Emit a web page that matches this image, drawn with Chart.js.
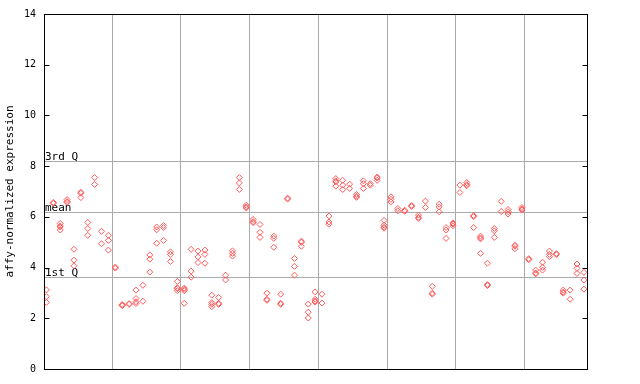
<!DOCTYPE html>
<html><head><meta charset="utf-8">
<script src="https://cdn.jsdelivr.net/npm/chart.js@4/dist/chart.umd.min.js"></script>
<style>html,body{margin:0;padding:0;background:#fff}#c{display:block}</style>
</head><body>
<canvas id="c" width="640" height="384"></canvas>
<script>
// replicate values per sample column (left to right)
const columnValues = [
  [3.12, 2.85, 2.63], [6.57, 6.53], [5.74, 5.64, 5.60, 5.48], [6.68, 6.60, 6.57], [4.72, 4.29, 4.07],
  [6.97, 6.93, 6.76], [5.78, 5.54, 5.27], [7.55, 7.28], [5.43, 4.94], [5.27, 5.07, 4.69],
  [4.02, 3.98], [2.54, 2.50, 2.52], [2.58, 2.55], [3.11, 2.78, 2.65, 2.58], [3.30, 2.67],
  [4.50, 4.33, 3.82], [5.60, 5.49, 4.96], [5.66, 5.58, 5.07], [4.62, 4.52, 4.24], [3.45, 3.20, 3.17, 3.09],
  [3.19, 3.14, 3.09, 2.59], [4.72, 3.86, 3.62], [4.65, 4.42, 4.20], [4.69, 4.52, 4.17], [2.91, 2.62, 2.55, 2.46],
  [2.82, 2.59, 2.55], [3.70, 3.51], [4.66, 4.56, 4.45], [7.55, 7.34, 7.08], [6.46, 6.39, 6.35],
  [5.90, 5.81, 5.77], [5.70, 5.39, 5.19], [2.99, 2.75, 2.71], [5.24, 5.15, 4.80], [2.95, 2.59, 2.55],
  [6.74, 6.70], [4.36, 4.05, 3.70], [5.04, 5.00, 4.84], [2.56, 2.24, 2.01], [3.04, 2.75, 2.68, 2.64],
  [2.95, 2.60], [6.03, 5.80, 5.71], [7.51, 7.42, 7.38, 7.21], [7.44, 7.25, 7.08], [7.29, 7.12],
  [6.88, 6.81, 6.77], [7.42, 7.31, 7.12], [7.31, 7.25], [7.57, 7.53, 7.44], [5.86, 5.67, 5.59, 5.55],
  [6.79, 6.69, 6.59], [6.33, 6.24], [6.26, 6.22], [6.45, 6.41], [6.07, 5.98, 5.94],
  [6.62, 6.37], [3.26, 2.99, 2.95], [6.50, 6.39, 6.20], [5.58, 5.48, 5.15], [5.76, 5.72, 5.65],
  [7.25, 6.96], [7.35, 7.27, 7.23], [6.05, 6.01, 5.58], [5.24, 5.17, 5.13, 4.56], [4.17, 3.33, 3.29],
  [5.54, 5.45, 5.19], [6.61, 6.21], [6.29, 6.20, 6.11], [4.88, 4.84, 4.74], [6.37, 6.31, 6.27],
  [4.35, 4.31], [3.90, 3.79, 3.75], [4.21, 4.01, 3.90], [4.65, 4.52, 4.43], [4.55, 4.51],
  [3.11, 3.03, 2.99], [3.11, 2.75], [4.14, 3.97, 3.77], [3.81, 3.51, 3.15]
];
const groupBoundaries = [9.65, 19.53, 29.54, 39.5, 49.56, 59.42, 69.44];
const yTicks = [0, 2, 4, 6, 8, 10, 12, 14];
const quartileLabels = ['3rd Q', 'mean', '1st Q'];
const quartileValues = [8.22, 6.21, 3.62];
const yTitle = 'affy-normalized expression';

const points = [];
columnValues.forEach((vals, i) => vals.forEach(v => points.push({x: i, y: v})));

const mono = 'DejaVu Sans Mono';

const framePlugin = {
  id: 'frame',
  beforeDatasetsDraw(chart) {
    const {ctx, chartArea: a, scales: {y}} = chart;
    ctx.save();
    ctx.strokeStyle = '#aaaaaa';
    ctx.lineWidth = 1;
    ctx.font = '11px "' + mono + '"';
    ctx.fillStyle = '#000';
    ctx.textBaseline = 'alphabetic';
    ctx.textAlign = 'left';
    quartileValues.forEach((v, i) => {
      const py = Math.round(y.getPixelForValue(v)) + 0.5;
      ctx.beginPath(); ctx.moveTo(a.left, py); ctx.lineTo(a.right, py); ctx.stroke();
      ctx.fillText(quartileLabels[i], a.left + 1, py - 1.5);
    });
    ctx.restore();
  },
  afterDraw(chart) {
    const {ctx, chartArea: a, scales: {y}} = chart;
    ctx.save();
    ctx.strokeStyle = '#000';
    ctx.lineWidth = 1;
    const l = Math.round(a.left) + 0.5, r = Math.round(a.right) + 0.5;
    const t = Math.round(a.top) + 0.5, b = Math.round(a.bottom) + 0.5;
    ctx.strokeRect(l, t, r - l, b - t);
    yTicks.forEach(v => {
      const py = Math.round(y.getPixelForValue(v)) + 0.5;
      ctx.beginPath();
      ctx.moveTo(l, py); ctx.lineTo(l + 5, py);
      ctx.moveTo(r, py); ctx.lineTo(r - 5, py);
      ctx.stroke();
    });
    ctx.restore();
  }
};

new Chart(document.getElementById('c'), {
  type: 'scatter',
  data: {
    datasets: [{
      data: points,
      pointStyle: 'rectRot',
      pointRadius: 3,
      pointBorderWidth: 1,
      pointBorderColor: '#ff5a5a',
      pointBackgroundColor: 'rgba(255,255,255,0)',
      pointHoverRadius: 3
    }]
  },
  options: {
    responsive: false,
    animation: false,
    devicePixelRatio: 1,
    events: [],
    layout: {padding: {left: 0, top: 13, right: 53, bottom: 15}},
    plugins: {legend: {display: false}, tooltip: {enabled: false}},
    scales: {
      x: {
        type: 'linear', min: -0.35, max: 78.45,
        afterBuildTicks: s => { s.ticks = groupBoundaries.map(v => ({value: v})); },
        afterFit: s => { s.height = 0; },
        ticks: {display: false},
        grid: {color: '#aaaaaa', drawTicks: false, lineWidth: 1},
        border: {display: false}
      },
      y: {
        type: 'linear', min: 0, max: 14,
        afterBuildTicks: s => { s.ticks = yTicks.map(v => ({value: v})); },
        afterFit: s => { s.width = 44; },
        ticks: {color: '#000', font: {family: mono, size: 10}, padding: 8},
        grid: {display: false, drawTicks: false},
        border: {display: false},
        title: {display: true, text: yTitle, color: '#000', font: {family: mono, size: 11}, padding: {top: 4, bottom: 0}}
      }
    }
  },
  plugins: [framePlugin]
});
</script>
</body></html>
